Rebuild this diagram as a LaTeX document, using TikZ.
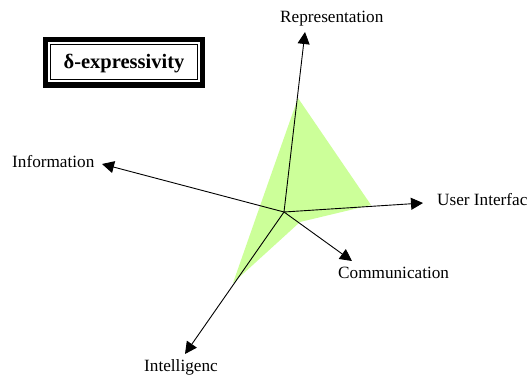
\documentclass[tikz,border=0pt]{standalone}
\usepackage{fontspec}
\setmainfont{Liberation Serif}
\usetikzlibrary{arrows.meta}
\definecolor{areagreen}{RGB}{204,255,153}
\tikzset{
  axis/.style={line width=0.9pt, -{Triangle[length=12pt,width=12pt]}},
  axislabel/.style={font=\fontsize{17.2}{20}\selectfont, inner sep=0pt, anchor=base west},
}
\begin{document}
\begin{tikzpicture}[x=1pt,y=-1pt]
\useasboundingbox (0,0) rectangle (527,380);

% centre and axis ends
\coordinate (O) at (284,212);
\coordinate (rep) at (305,32);
\coordinate (ui) at (423,203);
\coordinate (com) at (352,261);
\coordinate (intel) at (185,354);
\coordinate (info) at (102,164);

% values on each axis
\coordinate (vrep) at (298,98);
\coordinate (vui) at (371,205);
\coordinate (vcom) at (300,222);
\coordinate (vintel) at (233,283);
\coordinate (vinfo) at (260,206);

% shaded area
\fill[areagreen] (vrep) -- (vui) -- (vcom) -- (vintel) -- (vinfo) -- cycle;

% axes
\draw[axis] (O) -- (rep);
\draw[axis] (O) -- (ui);
\draw[axis] (O) -- (com);
\draw[axis] (O) -- (intel);
\draw[axis] (O) -- (info);

% axis labels
\node[axislabel] (lrep) at (280,22) {Representation};
\node[axislabel] (lui) at (437,205) {User Interfac};
\node[axislabel] (lcom) at (338,278) {Communication};
\node[axislabel] (lintel) at (144,371) {Intelligenc};
\node[axislabel] (linfo) at (12,167) {Information};

% title box with double frame
\fill[black] (43,37) rectangle (205,88);
\fill[white] (48,42) rectangle (200,82);
\draw[line width=1pt] (50.5,44.5) rectangle (197.5,79.5);
\node[font=\bfseries\fontsize{20.5}{23}\selectfont, inner sep=0pt] (title) at (124,64) {δ-expressivity};
\end{tikzpicture}
\end{document}
